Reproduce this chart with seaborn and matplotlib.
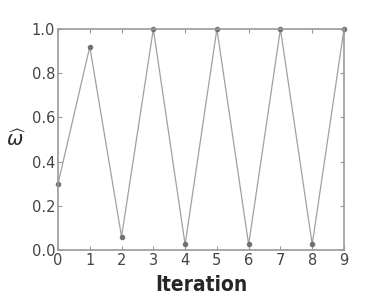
import numpy as np
import pandas as pd
import seaborn as sns
import matplotlib.pyplot as plt

iterations = [0, 1, 2, 3, 4, 5, 6, 7, 8, 9]
omega = [0.30, 0.92, 0.06, 1.0, 0.025, 1.0, 0.025, 1.0, 0.025, 1.0]

df = pd.DataFrame({'iteration': iterations, 'omega': omega})

sns.set_style('white')
plt.rcParams['font.family'] = ['DejaVu Sans']
fig = plt.figure(figsize=(3.82, 3.07), dpi=100)
ax = fig.add_axes([58 / 382, 1 - 250 / 307, 286 / 382, 221 / 307])

sns.lineplot(data=df, x='iteration', y='omega', color='#a0a0a0', linewidth=0.9,
             marker='o', markersize=3.2, markerfacecolor='#707070', markeredgecolor='#707070',
             clip_on=False, ax=ax)

ax.set_xlim(0, 9)
ax.set_ylim(0, 1)
ax.set_xticks(range(0, 10))
ax.set_yticks(np.arange(0, 1.01, 0.2))
ax.set_yticklabels([f'{v:.1f}' for v in np.arange(0, 1.01, 0.2)])
for s in ax.spines.values():
    s.set_color('#999999')
    s.set_linewidth(1.2)
ax.tick_params(direction='in', length=3, color='#999999', labelsize=10.5, labelcolor='#444444', pad=2)
ax.tick_params(top=True, right=True, bottom=True, left=True)

ax.set_xlabel('Iteration', fontsize=15, fontweight='bold', fontstretch='condensed',
              family=['DejaVu Sans'], labelpad=5)
ax.set_ylabel(r'$\widehat{\omega}$', fontsize=14, rotation=0, labelpad=11, va='center')

plt.savefig('out.png', dpi=100)
plt.close()
